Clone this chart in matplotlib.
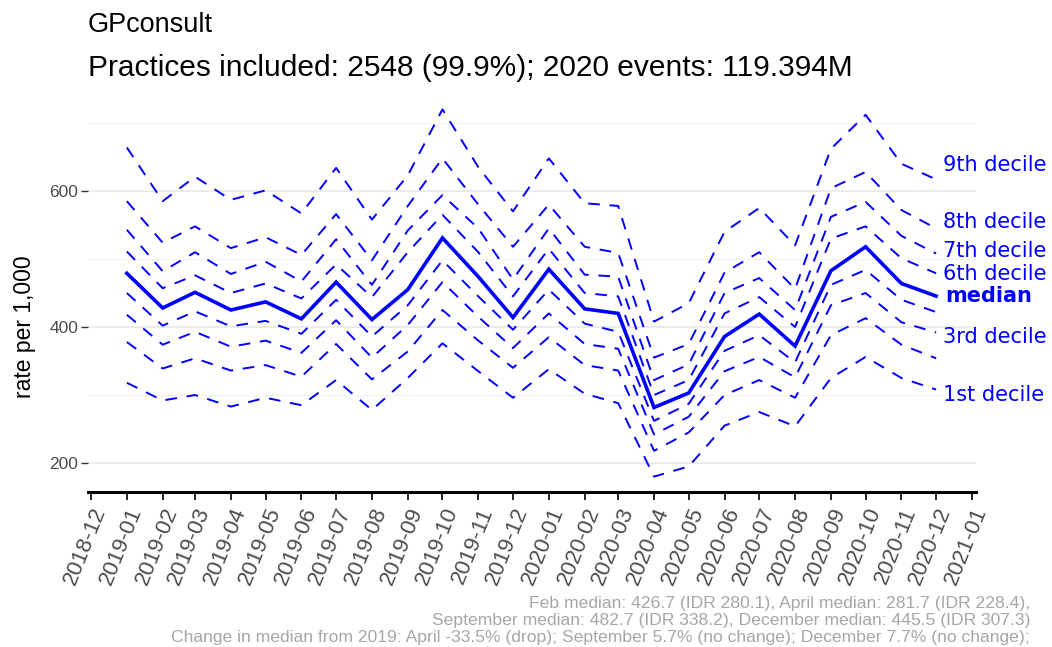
import matplotlib
matplotlib.use('Agg')
import matplotlib.pyplot as plt
import matplotlib.dates as mdates
import pandas as pd

# ── Data ────────────────────────────────────────────────────────────
months = pd.date_range('2019-01-01', '2020-12-01', freq='MS')
tick_months = pd.date_range('2018-12-01', '2021-01-01', freq='MS')

d9 = [664, 585, 621, 587, 601, 567, 634, 558, 623, 720, 635, 570,
      648, 582, 578, 408, 435, 540, 575, 520, 662, 712, 640, 617]
d8 = [585, 524, 548, 516, 532, 506, 566, 498, 578, 648, 580, 518,
      580, 518, 509, 355, 375, 480, 510, 456, 604, 628, 572, 545]
d7 = [543, 482, 510, 478, 496, 467, 529, 462, 542, 594, 545, 470,
      545, 477, 474, 322, 345, 450, 472, 425, 562, 584, 534, 508]
d6 = [511, 457, 476, 450, 464, 442, 492, 444, 510, 565, 510, 445,
      515, 450, 445, 300, 322, 420, 444, 400, 530, 548, 501, 479]
med = [479, 428, 451, 425, 437, 412, 466, 411, 455, 531, 474, 414,
       485, 426.7, 420, 281.7, 303, 386, 419, 372, 482.7, 518, 464, 445.5]
d4 = [450, 402, 423, 401, 409, 390, 440, 386, 432, 498, 445, 396,
      455, 405, 393, 262, 287, 365, 388, 348, 462, 484, 440, 422]
d3 = [418, 374, 393, 371, 380, 362, 410, 355, 403, 466, 415, 369,
      420, 375, 368, 242, 268, 335, 356, 326, 432, 450, 407, 392]
d2 = [378, 339, 354, 336, 344, 327, 375, 323, 364, 425, 380, 340,
      385, 344, 336, 218, 245, 300, 322, 296, 388, 413, 374, 354]
d1 = [318, 292, 300, 283, 296, 285, 322, 278, 325, 376, 335, 296,
      338, 302, 288, 180, 195, 255, 275, 254, 325, 356, 325, 308]

title = 'GPconsult'
subtitle = 'Practices included: 2548 (99.9%); 2020 events: 119.394M'
caption = [
    'Feb median: 426.7 (IDR 280.1), April median: 281.7 (IDR 228.4),',
    'September median: 482.7 (IDR 338.2), December median: 445.5 (IDR 307.3)',
    'Change in median from 2019: April -33.5% (drop); September 5.7% (no change); December 7.7% (no change);',
]

# dashed deciles: (values, end label, label nudge in px, +down)
deciles = [
    (d1, '1st decile', 5),
    (d2, None, 0),
    (d3, '3rd decile', 5),
    (d4, None, 0),
    (d6, '6th decile', 1),
    (d7, '7th decile', -3),
    (d8, '8th decile', -6),
    (d9, '9th decile', -14),
]

BLUE = '#0000ff'
PX = 72 / 100  # points per pixel

W, H = 1052, 647
fig = plt.figure(figsize=(W / 100, H / 100), dpi=100)
ax = fig.add_axes([88 / W, 1 - 492 / H, (976 - 88) / W, (492 - 100) / H])

for vals, lab, dy in deciles:
    ax.plot(months, vals, color=BLUE, lw=1.4, linestyle=(0, (6, 5)))
    if lab:
        ax.annotate(lab, xy=(months[-1], vals[-1]), xytext=(7 * PX, -dy * PX),
                    textcoords='offset points', ha='left', va='center',
                    color=BLUE, fontsize=15, family='DejaVu Sans',
                    annotation_clip=False)

ax.plot(months, med, color=BLUE, lw=2.6, solid_joinstyle='miter')
ax.annotate('median', xy=(months[-1], med[-1]), xytext=(9 * PX, 0),
            textcoords='offset points', ha='left', va='center',
            color=BLUE, fontsize=15, fontweight='bold', family='DejaVu Sans',
            annotation_clip=False)

# axes
x0 = mdates.date2num(tick_months[0]) - 2.6
x1 = mdates.date2num(tick_months[-1]) + 3.5
ax.set_xlim(x0, x1)
ax.set_ylim(157.4, 733.8)

ax.set_yticks([200, 400, 600])
ax.set_yticks([300, 500, 700], minor=True)
ax.grid(axis='y', which='major', color='#e8e8e8', lw=1.2)
ax.grid(axis='y', which='minor', color='#f3f3f3', lw=0.9)
ax.set_axisbelow(True)

for s in ['top', 'right', 'left']:
    ax.spines[s].set_visible(False)
ax.spines['bottom'].set_color('black')
ax.spines['bottom'].set_linewidth(2.2)

ax.set_xticks(tick_months)
ax.set_xticklabels([d.strftime('%Y-%m') for d in tick_months],
                   rotation=68, ha='right', rotation_mode='anchor',
                   family='Liberation Sans')
ax.tick_params(axis='x', length=6, width=1.2, color='black', pad=3,
               labelsize=16, labelcolor='#4d4d4d')
ax.tick_params(axis='y', which='major', length=5, width=1, color='#333333',
               labelsize=12.5, labelcolor='#4d4d4d', pad=2)
ax.tick_params(axis='y', which='minor', length=0)
for t in ax.get_yticklabels():
    t.set_family('Liberation Sans')

ax.set_ylabel('rate per 1,000', fontsize=16.5, family='Liberation Sans')
ax.yaxis.set_label_coords(-52 / (976 - 88), (492 - 327) / (492 - 100))

fig.text(88 / W, 1 - 32 / H, title, fontsize=19.5, family='Liberation Sans',
         va='baseline')
fig.text(88 / W, 1 - 76 / H, subtitle, fontsize=21.5, family='Liberation Sans',
         va='baseline')

for i, line in enumerate(caption):
    fig.text(1030 / W, 1 - (608 + 17 * i) / H, line, fontsize=12.6,
             family='Liberation Sans', color='#a6a6a6', ha='right',
             va='baseline')

fig.savefig('out.png', dpi=100)
